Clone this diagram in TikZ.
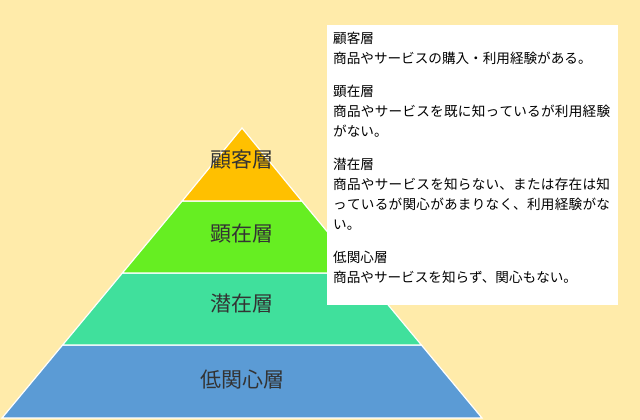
\documentclass[tikz,border=0pt]{standalone}
\usepackage{fontspec}
\setmainfont{Noto Sans CJK JP}
\XeTeXlinebreaklocale "ja"
\XeTeXlinebreakskip=0pt plus 1pt
\definecolor{bgyellow}{HTML}{FFEBAA}
\definecolor{layerA}{HTML}{FFC000}
\definecolor{layerB}{HTML}{66EE22}
\definecolor{layerC}{HTML}{40E09C}
\definecolor{layerD}{HTML}{5B9BD5}
\tikzset{
  layer/.style={draw=white, line width=1.2pt},
  layerlabel/.style={font=\fontsize{21}{24}\selectfont, text=black!80},
}
\begin{document}
\begin{tikzpicture}[x=1pt,y=1pt]
        \fill [bgyellow] (0,0) rectangle (640,420);
        \useasboundingbox (0,0) rectangle (640,420);
        % pyramid, apex (242,292), base y=2, half width 240
        \fill [layerD, layer] (2,2) -- (482,2) -- (421.4,75) -- (62.6,75) -- cycle;
        \fill [layerC, layer] (62.6,75) -- (421.4,75) -- (361.6,147) -- (122.4,147) -- cycle;
        \fill [layerB, layer] (122.4,147) -- (361.6,147) -- (301.8,219) -- (182.2,219) -- cycle;
        \fill [layerA, layer] (182.2,219) -- (301.8,219) -- (242,292) -- cycle;
        \node [layerlabel] (kokyaku) at (242,260) {顧客層};
        \node [layerlabel] (kenzai) at (242,186) {顕在層};
        \node [layerlabel] (senzai) at (242,116) {潜在層};
        \node [layerlabel] (teikanshin) at (242,40) {低関心層};

        % description box
        \fill [white] (327,115) rectangle (618,395);
        \node [anchor=north west, inner sep=0pt, text width=284pt, align=left,
               font=\fontsize{13.6}{20}\selectfont] (desc) at (333,388)
          {顧客層\\商品やサービスの購入・利用経験がある。\par\vspace{13pt}
           顕在層\\商品やサービスを既に知っているが利用経験がない。\par\vspace{13pt}
           潜在層\\商品やサービスを知らない、または存在は知っているが関心があまりなく、利用経験がない。\par\vspace{13pt}
           低関心層\\商品やサービスを知らず、関心もない。};
\end{tikzpicture}
\end{document}
